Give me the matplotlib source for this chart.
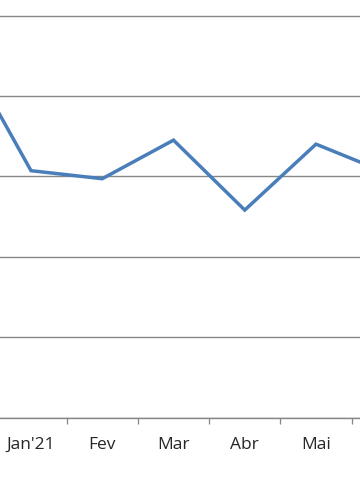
import numpy as np
import matplotlib
matplotlib.use("Agg")
import matplotlib.pyplot as plt

# --- data (Dez and Jun sit just outside the visible crop) ---
months = ["Dez", "Jan'21", "Fev", "Mar", "Abr", "Mai", "Jun"]
values = [46.6, 30.7, 29.7, 34.5, 25.8, 34.0, 30.4]
y_ticks = [0, 10, 20, 30, 40, 50]

plt.rcParams['font.family'] = ['Open Sans', 'DejaVu Sans']

fig = plt.figure(figsize=(3.6, 5.04), dpi=100)
ax = fig.add_axes([0, 1 - 417.5 / 504, 1, 417.5 / 504])

x = np.arange(len(months))
ax.plot(x, values, color="#4a7ebb", linewidth=2.5, solid_joinstyle="miter", zorder=3)

# gridlines
ax.set_yticks(y_ticks)
ax.yaxis.grid(True, color="#868686", linewidth=1.0)
ax.tick_params(axis="y", left=False, labelleft=False)

# category labels centred, tick marks between categories
ax.set_xticks(x + 0.5)
ax.set_xticklabels([])
ax.set_xticks(x, minor=True)
ax.set_xticklabels(months, minor=True, fontsize=12.5, color="#262626")
ax.tick_params(axis="x", which="major", length=4.5, width=0.9, color="#868686", direction="out")
ax.tick_params(axis="x", which="minor", length=0, pad=14)

# visible window of the crop (set after ticks so it is not expanded)
ax.set_xlim(0.565, 5.6175)
ax.set_ylim(0, 51.93)

for side in ["top", "left", "right"]:
    ax.spines[side].set_visible(False)
ax.spines["bottom"].set_color("#868686")
ax.spines["bottom"].set_linewidth(1.0)

fig.savefig("out.png", dpi=100)
